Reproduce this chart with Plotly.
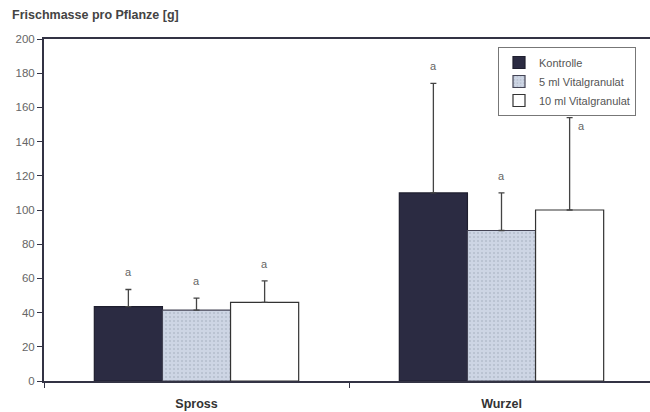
import plotly.graph_objects as go

categories = ["Spross", "Wurzel"]
series_names = ["Kontrolle", "5 ml Vitalgranulat", "10 ml Vitalgranulat"]
values = {
    "Kontrolle": [43.5, 110],
    "5 ml Vitalgranulat": [41.5, 88],
    "10 ml Vitalgranulat": [46, 100],
}
errors = {
    "Kontrolle": [10, 64],
    "5 ml Vitalgranulat": [7, 22],
    "10 ml Vitalgranulat": [12.5, 54],
}
letters = {
    "Kontrolle": ["a", "a"],
    "5 ml Vitalgranulat": ["a", "a"],
    "10 ml Vitalgranulat": ["a", "a"],
}
y_ticks = [0, 20, 40, 60, 80, 100, 120, 140, 160, 180, 200]

fills = ["#2b2b42", "#cdd5e4", "#ffffff"]
lines = ["#1e1e2e", "#444455", "#333333"]
FONT = "Liberation Sans, Arial"

fig = go.Figure()
for i, name in enumerate(series_names):
    marker = dict(color=fills[i], line=dict(color=lines[i], width=1.2))
    if i == 1:
        marker["pattern"] = dict(shape=".", size=4, solidity=0.2,
                                 fgcolor="#9aa3b5", bgcolor=fills[i])
    fig.add_trace(go.Bar(
        name=name, x=categories, y=values[name],
        marker=marker,
        error_y=dict(type="data", symmetric=False, array=errors[name],
                     arrayminus=[0, 0], color="#444444", thickness=1.3, width=3),
    ))

# letters above error bars
bar_w = 0.67 / 3
for i, name in enumerate(series_names):
    for c, cat in enumerate(categories):
        top = values[name][c] + errors[name][c]
        xpos = c + (i - 1) * bar_w
        ypos = top + 10
        if name == "10 ml Vitalgranulat" and cat == "Wurzel":
            xpos += 0.02
            ypos = top - 5
            xanchor = "left"
        else:
            xanchor = "center"
        fig.add_annotation(x=xpos, y=ypos, xref="x", yref="y", text=letters[name][c],
                           showarrow=False, xanchor=xanchor, yanchor="middle",
                           font=dict(size=11, color="#666666", family=FONT))

fig.add_annotation(x=(10 - 44) / 606, y=(381 - 15) / 342, xref="paper", yref="paper",
                   text="<b>Frischmasse pro Pflanze [g]</b>",
                   showarrow=False, xanchor="left", yanchor="middle",
                   font=dict(size=12.5, color="#444444", family=FONT))

fig.update_layout(
    width=650, height=412,
    margin=dict(l=44, r=0, t=39, b=31),
    paper_bgcolor="white", plot_bgcolor="white",
    barmode="group", bargap=0.33, bargroupgap=0,
    showlegend=True,
    legend=dict(x=(498 - 44) / 606, y=(381 - 47) / 342, xanchor="left", yanchor="top",
                bgcolor="white", bordercolor="#777777", borderwidth=1,
                font=dict(size=11, color="#555555", family=FONT),
                tracegroupgap=0, itemwidth=30),
    xaxis=dict(range=[-0.5, -0.5 + 606 / 305], showline=True, linecolor="#333344", linewidth=2,
               mirror=True, ticks="outside", tickson="boundaries", ticklen=5, tickcolor="#333344",
               ticklabelstandoff=10,
               tickfont=dict(size=12.5, color="#333333", family=FONT),
               tickprefix="<b>", ticksuffix="</b>"),
    yaxis=dict(range=[0, 200], tickvals=y_ticks, showline=True, linecolor="#333344", linewidth=2,
               ticks="outside", ticklen=5, tickcolor="#333344", showgrid=False, zeroline=False,
               tickfont=dict(size=11.5, color="#666666", family=FONT)),
)

fig.write_html("out.html", config={"displayModeBar": False},
               post_script="document.body.style.margin='0';")
